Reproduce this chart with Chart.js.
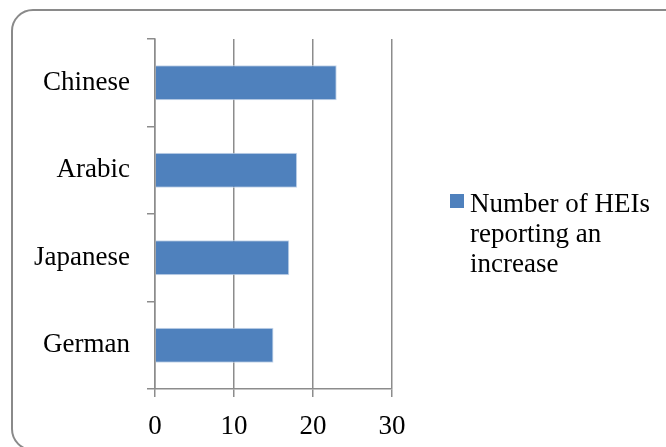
<!DOCTYPE html>
<html lang="en">
<head>
<meta charset="UTF-8">
<title>HEIs reporting an increase</title>
<style>
  html, body { margin: 0; padding: 0; background: #fff; }
  .wrap { position: relative; width: 666px; height: 447px; overflow: hidden; }
  .frame { position: absolute; left: 11px; top: 9px; width: 700px; height: 442px;
           border: 2px solid #8a8a8a; border-radius: 22px; box-sizing: border-box; }
  canvas { position: absolute; left: 0; top: 0; }
</style>
</head>
<body>
<div class="wrap">
  <div class="frame"></div>
  <canvas id="myChart" width="666" height="447"></canvas>
</div>
<script src="https://cdn.jsdelivr.net/npm/chart.js"></script>
<script>
const languages = ['Chinese', 'Arabic', 'Japanese', 'German'];
const heiCounts = [23, 18, 17, 15];
const xTicks = [0, 10, 20, 30];
const seriesName = 'Number of HEIs reporting an increase';

const serif = "'Liberation Serif', 'DejaVu Serif', serif";
const gridGrey = '#8c8c8c';

// legend drawn by hand so the label can wrap onto several lines
const sideLegend = {
  id: 'sideLegend',
  afterDraw(chart) {
    const c = chart.ctx;
    const ds = chart.data.datasets[0];
    c.save();
    c.font = '27px ' + serif;
    const words = ds.label.split(' ');
    const lines = [];
    let cur = '';
    words.forEach(w => {
      const test = cur ? cur + ' ' + w : w;
      if (c.measureText(test).width > 190 && cur) { lines.push(cur); cur = w; }
      else cur = test;
    });
    lines.push(cur);
    c.fillStyle = ds.backgroundColor;
    c.fillRect(450, 194, 14, 14);
    c.fillStyle = '#000';
    c.textBaseline = 'alphabetic';
    lines.forEach((ln, i) => c.fillText(ln, 470, 212 + i * 30));
    c.restore();
  }
};

const ctx = document.getElementById('myChart');
new Chart(ctx, {
  type: 'bar',
  data: {
    labels: languages,
    datasets: [{
      label: seriesName,
      data: heiCounts,
      backgroundColor: '#4f81bd',
      borderColor: '#c6d6ea',
      borderWidth: 1,
      borderSkipped: 'start',
      barPercentage: 0.8,
      categoryPercentage: 0.5
    }]
  },
  options: {
    indexAxis: 'y',
    responsive: false,
    animation: false,
    layout: { padding: { left: 0, top: 39, right: 274, bottom: 0 } },
    plugins: { legend: { display: false }, tooltip: { enabled: false } },
    scales: {
      x: {
        min: 0, max: 30,
        afterBuildTicks(axis) { axis.ticks = xTicks.map(v => ({ value: v })); },
        afterFit(axis) { axis.height = 58; },
        grid: { color: gridGrey, lineWidth: 1.5, tickLength: 8 },
        border: { color: gridGrey, width: 1.5 },
        ticks: { color: '#000', font: { family: serif, size: 27 }, padding: 14, maxRotation: 0 }
      },
      y: {
        afterFit(axis) { axis.width = 155; },
        grid: { drawOnChartArea: false, color: gridGrey, lineWidth: 1.5, tickLength: 8 },
        border: { color: gridGrey, width: 1.5 },
        ticks: { color: '#000', font: { family: serif, size: 27 }, padding: 17 }
      }
    }
  },
  plugins: [sideLegend]
});
</script>
</body>
</html>
